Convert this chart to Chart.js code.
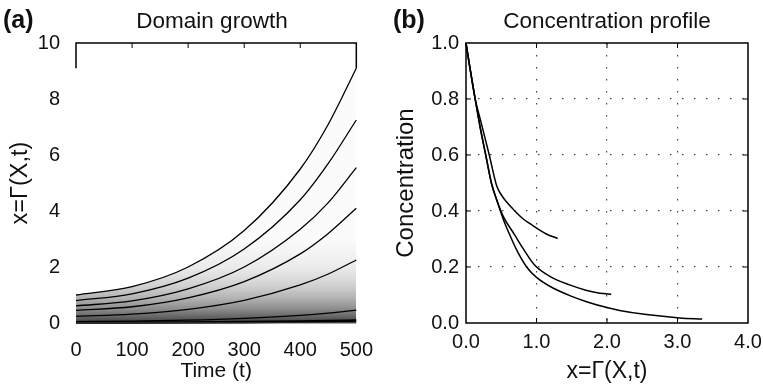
<!DOCTYPE html>
<html>
<head>
<meta charset="utf-8">
<script src="https://cdn.jsdelivr.net/npm/chart.js@4.4.1/dist/chart.umd.min.js"></script>
<style>
  html, body { margin: 0; background: #fff; overflow: hidden; }
  .panel { position: absolute; top: 0; height: 385px; }
  #panelA { left: 0; width: 380px; }
  #panelB { left: 380px; width: 400px; }
</style>
</head>
<body>
<div class="panel" id="panelA"><canvas id="chartA" width="380" height="385"></canvas></div>
<div class="panel" id="panelB"><canvas id="chartB" width="400" height="385"></canvas></div>
<script>
// (a) DOMAIN GROWTH - position of material points over time
const times = [0, 100, 200, 300, 400, 450, 500];
const track1 = [1.0, 1.3, 2.0, 3.3, 5.5, 7.1, 9.1];
const track2 = [0.8, 1.04, 1.6, 2.64, 4.4, 5.7, 7.25];
const track3 = [0.61, 0.79, 1.22, 2.0, 3.35, 4.3, 5.55];
const track4 = [0.45, 0.58, 0.9, 1.48, 2.47, 3.2, 4.1];
const track5 = [0.24, 0.32, 0.49, 0.81, 1.36, 1.75, 2.25];
const track6 = [0.05, 0.065, 0.1, 0.165, 0.27, 0.35, 0.46];
const track7 = [0.01, 0.013, 0.02, 0.033, 0.055, 0.07, 0.09];
const timeTicks = [0, 100, 200, 300, 400, 500];
const domainTicks = [0, 2, 4, 6, 8, 10];

// (b) CONCENTRATION PROFILE - three snapshots
const profile1X = [0, 0.05, 0.13, 0.2, 0.33, 0.435, 0.5, 0.577, 0.67, 0.8, 0.907, 1.14, 1.3];
const profile1Y = [1.0, 0.92, 0.8, 0.73, 0.6, 0.49, 0.458, 0.432, 0.406, 0.374, 0.355, 0.318, 0.302];
const profile2X = [0, 0.05, 0.13, 0.2, 0.28, 0.36, 0.435, 0.53, 0.69, 0.8, 0.98, 1.2, 1.47, 1.7, 1.9, 2.06];
const profile2Y = [1.0, 0.92, 0.8, 0.7, 0.6, 0.5, 0.44, 0.38, 0.315, 0.27, 0.205, 0.165, 0.136, 0.117, 0.106, 0.103];
const profile3X = [0, 0.05, 0.13, 0.2, 0.28, 0.36, 0.435, 0.53, 0.62, 0.72, 0.86, 1.0, 1.24, 1.5, 1.71, 2.0, 2.18, 2.56, 3.03, 3.35];
const profile3Y = [1.0, 0.92, 0.8, 0.7, 0.6, 0.5, 0.44, 0.37, 0.315, 0.26, 0.2, 0.163, 0.124, 0.095, 0.076, 0.055, 0.045, 0.03, 0.018, 0.014];
const positionTicks = [0, 1, 2, 3, 4];
const concTicks = [0, 0.2, 0.4, 0.6, 0.8, 1.0];

Chart.defaults.font.family = "'Liberation Sans', Arial, sans-serif";
Chart.defaults.color = '#111';

function toPoints(xs, ys) {
  return xs.map(function(x, i) { return {x: x, y: ys[i]}; });
}

// grey shading under the domain, darker near x = 0
function shade(context) {
  const chart = context.chart;
  const area = chart.chartArea;
  if (!area) return 'rgba(0,0,0,0)';
  const y = chart.scales.y;
  const g = chart.ctx.createLinearGradient(0, y.getPixelForValue(0), 0, y.getPixelForValue(3));
  g.addColorStop(0, '#2a2a2a');
  g.addColorStop(0.02, '#4a4a4a');
  g.addColorStop(0.08, '#686868');
  g.addColorStop(0.17, '#8e8e8e');
  g.addColorStop(0.3, '#b4b4b4');
  g.addColorStop(0.45, '#d2d2d2');
  g.addColorStop(0.66, '#ebebeb');
  g.addColorStop(1, '#fbfbfb');
  return g;
}

// box, inward ticks and panel titles
const framePlugin = {
  id: 'frame',
  afterDatasetsDraw(chart, args, o) {
    const ctx = chart.ctx;
    const a = chart.chartArea;
    const x = chart.scales.x, y = chart.scales.y;
    ctx.save();
    ctx.strokeStyle = '#000';
    ctx.lineWidth = 1.5;
    ctx.beginPath();
    if (o.imageTop != null) {
      const cut = y.getPixelForValue(o.imageTop);
      ctx.moveTo(a.left, cut);
      ctx.lineTo(a.left, a.top);
      ctx.lineTo(a.right, a.top);
      ctx.lineTo(a.right, cut);
      ctx.stroke();
      ctx.strokeStyle = '#555';
      ctx.lineWidth = 1;
      ctx.beginPath();
      ctx.moveTo(a.left, a.bottom);
      ctx.lineTo(a.right, a.bottom);
    } else {
      ctx.rect(a.left, a.top, a.right - a.left, a.bottom - a.top);
    }
    ctx.stroke();
    ctx.strokeStyle = '#000';
    ctx.lineWidth = 1;
    ctx.beginPath();
    o.xTicks.forEach(function(v) {
      const px = x.getPixelForValue(v);
      if (px <= a.left + 1 || px >= a.right - 1) return;
      ctx.moveTo(px, a.top); ctx.lineTo(px, a.top + 5);
      if (o.allEdges) { ctx.moveTo(px, a.bottom); ctx.lineTo(px, a.bottom - 5); }
    });
    if (o.allEdges) {
      o.yTicks.forEach(function(v) {
        const py = y.getPixelForValue(v);
        if (py <= a.top + 1 || py >= a.bottom - 1) return;
        ctx.moveTo(a.left, py); ctx.lineTo(a.left + 5, py);
        ctx.moveTo(a.right, py); ctx.lineTo(a.right - 5, py);
      });
    }
    ctx.stroke();
    ctx.restore();
  },
  afterDraw(chart, args, o) {
    const ctx = chart.ctx;
    ctx.save();
    ctx.fillStyle = '#111';
    ctx.textBaseline = 'alphabetic';
    ctx.textAlign = 'left';
    ctx.font = "bold 25px 'Liberation Sans', Arial, sans-serif";
    ctx.fillText(o.label, o.labelX, 28);
    ctx.textAlign = 'center';
    ctx.font = "22.5px 'Liberation Sans', Arial, sans-serif";
    ctx.fillText(o.title, o.titleX, 28);
    ctx.restore();
  }
};

function fixSize(w, h) {
  return function(scale) {
    if (w) scale.width = w;
    if (h) scale.height = h;
  };
}

const lineStyle = {borderColor: '#000', borderWidth: 1.3, pointRadius: 0, fill: false,
  cubicInterpolationMode: 'monotone', clip: 4};

new Chart(document.getElementById('chartA'), {
  type: 'line',
  data: {
    datasets: [
      Object.assign({}, lineStyle, {data: toPoints(times, track1), fill: 'origin', backgroundColor: shade}),
      Object.assign({}, lineStyle, {data: toPoints(times, track2)}),
      Object.assign({}, lineStyle, {data: toPoints(times, track3)}),
      Object.assign({}, lineStyle, {data: toPoints(times, track4)}),
      Object.assign({}, lineStyle, {data: toPoints(times, track5)}),
      Object.assign({}, lineStyle, {data: toPoints(times, track6)}),
      Object.assign({}, lineStyle, {data: toPoints(times, track7), borderWidth: 2.6})
    ]
  },
  options: {
    responsive: false,
    animation: false,
    devicePixelRatio: 1,
    layout: {padding: {left: 0, right: 22, top: 43, bottom: 0}},
    plugins: {
      legend: {display: false},
      tooltip: {enabled: false},
      filler: {drawTime: 'beforeDatasetsDraw'},
      frame: {imageTop: track1[track1.length - 1], xTicks: timeTicks, yTicks: domainTicks,
        allEdges: false, label: '(a)', labelX: 3, title: 'Domain growth', titleX: 212}
    },
    scales: {
      x: {
        type: 'linear', min: 0, max: 500,
        afterFit: fixSize(0, 62),
        afterBuildTicks: function(s) { s.ticks = timeTicks.map(function(v) { return {value: v}; }); },
        grid: {display: false},
        border: {display: false},
        ticks: {font: {size: 20}, padding: 7, maxRotation: 0, autoSkip: false},
        title: {display: true, text: 'Time (t)', font: {size: 21}, padding: {top: 0, bottom: 1}}
      },
      y: {
        type: 'linear', min: 0, max: 10,
        afterFit: fixSize(76, 0),
        afterBuildTicks: function(s) { s.ticks = domainTicks.map(function(v) { return {value: v}; }); },
        grid: {display: false},
        border: {display: false},
        ticks: {font: {size: 20}, padding: 8},
        title: {display: true, text: 'x=\u0393(X,t)', font: {size: 23.5}, padding: {top: 6, bottom: 0}}
      }
    }
  },
  plugins: [framePlugin]
});

new Chart(document.getElementById('chartB'), {
  type: 'scatter',
  data: {
    datasets: [
      Object.assign({}, lineStyle, {data: toPoints(profile1X, profile1Y), showLine: true, borderWidth: 1.5}),
      Object.assign({}, lineStyle, {data: toPoints(profile2X, profile2Y), showLine: true, borderWidth: 1.5}),
      Object.assign({}, lineStyle, {data: toPoints(profile3X, profile3Y), showLine: true, borderWidth: 1.5})
    ]
  },
  options: {
    responsive: false,
    animation: false,
    devicePixelRatio: 1,
    layout: {padding: {left: 0, right: 32, top: 43, bottom: 0}},
    plugins: {
      legend: {display: false},
      tooltip: {enabled: false},
      frame: {imageTop: null, xTicks: positionTicks, yTicks: concTicks,
        allEdges: true, label: '(b)', labelX: 13, title: 'Concentration profile', titleX: 227}
    },
    scales: {
      x: {
        type: 'linear', min: 0, max: 4,
        afterFit: fixSize(0, 62),
        afterBuildTicks: function(s) { s.ticks = positionTicks.map(function(v) { return {value: v}; }); },
        grid: {
          drawTicks: false,
          color: function(c) { return (c.tick.value > 0 && c.tick.value < 4) ? '#444' : 'rgba(0,0,0,0)'; },
          lineWidth: 1.2
        },
        border: {display: false, dash: [1.5, 10.5]},
        ticks: {font: {size: 20}, padding: 7, maxRotation: 0, autoSkip: false,
          callback: function(v) { return v.toFixed(1); }},
        title: {display: true, text: 'x=\u0393(X,t)', font: {size: 23}, padding: {top: 0, bottom: 0}}
      },
      y: {
        type: 'linear', min: 0, max: 1,
        afterFit: fixSize(86, 0),
        afterBuildTicks: function(s) { s.ticks = concTicks.map(function(v) { return {value: v}; }); },
        grid: {
          drawTicks: false,
          color: function(c) { return (c.tick.value > 0.01 && c.tick.value < 0.99) ? '#444' : 'rgba(0,0,0,0)'; },
          lineWidth: 1.2
        },
        border: {display: false, dash: [1.5, 10.5]},
        ticks: {font: {size: 20}, padding: 7, callback: function(v) { return v.toFixed(1); }},
        title: {display: true, text: 'Concentration', font: {size: 24}, padding: {top: 12, bottom: 0}}
      }
    }
  },
  plugins: [framePlugin]
});
</script>
</body>
</html>
